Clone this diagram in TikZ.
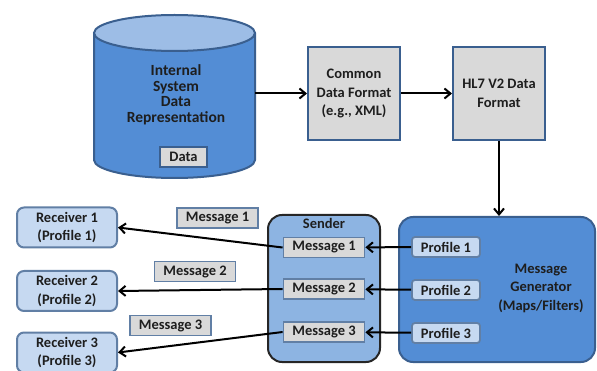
\documentclass[tikz,border=0pt]{standalone}
\usepackage{fontspec}
\setmainfont{Carlito}
\usetikzlibrary{arrows.meta}

\definecolor{dbblue}{HTML}{538DD5}
\definecolor{dbtop}{HTML}{9DBDE6}
\definecolor{edgeblue}{HTML}{3A5F8F}
\definecolor{boxgray}{HTML}{D9D9D9}
\definecolor{paleblue}{HTML}{C6D9F1}
\definecolor{sendblue}{HTML}{8DB4E2}
\definecolor{inkgray}{HTML}{1E1E1E}

\tikzset{
  arr/.style={-{Straight Barb[length=6pt,width=10pt]}, line width=2pt},
  txt/.style={font=\fontsize{14.5}{18.5}\selectfont\bfseries, text=inkgray, align=center},
  fmtbox/.style={txt, draw=edgeblue, fill=boxgray, line width=2pt,
    minimum width=92pt, minimum height=93pt, inner sep=0pt},
  msgbox/.style={txt, draw=edgeblue!80, fill=boxgray, line width=1.8pt,
    minimum width=81pt, minimum height=20pt, inner sep=0pt},
  profbox/.style={txt, draw=edgeblue!80, fill=paleblue, line width=1.8pt,
    rounded corners=3pt, minimum width=68pt, minimum height=20pt, inner sep=0pt},
  rcvbox/.style={txt, draw=edgeblue!80, fill=paleblue, line width=2pt,
    rounded corners=7pt, minimum width=100pt, minimum height=40pt, inner sep=0pt}
}

\begin{document}
\begin{tikzpicture}[x=1pt,y=-1pt]
  \useasboundingbox (0,0) rectangle (597,371);

  % database cylinder
  \draw[fill=dbblue, draw=edgeblue, line width=2pt]
    (94,33) -- (94,160) arc[start angle=180,end angle=0,x radius=80.5,y radius=18] -- (255,33);
  \draw[fill=dbtop, draw=edgeblue, line width=2pt] (174.5,33) ellipse [x radius=80.5,y radius=18];
  \node[txt, font=\fontsize{15.5}{15.5}\selectfont\bfseries] (dbtxt) at (176,95)
    {Internal\\System\\Data\\Representation};
  \node[msgbox, draw=edgeblue, minimum width=47pt] (dbdata) at (183.5,157) {Data};
  \coordinate (dbE) at (255,93.5);

  % format boxes
  \node[fmtbox] (common) at (354,93.5) {Common\\Data Format\\(e.g., XML)};
  \node[fmtbox] (hl7) at (499,93.5) {HL7 V2 Data\\Format};

  % message generator
  \node[draw=edgeblue, fill=dbblue, line width=2pt, rounded corners=14pt,
    minimum width=196pt, minimum height=145pt] (gen) at (497,289.5) {};
  \node[txt] (gentxt) at (541,288) {Message\\Generator\\(Maps/Filters)};
  \node[profbox] (prof1) at (446,247) {Profile 1};
  \node[profbox] (prof2) at (446,290) {Profile 2};
  \node[profbox] (prof3) at (446,333) {Profile 3};

  % sender
  \node[draw=black!85, fill=sendblue, line width=2pt, rounded corners=14pt,
    minimum width=112pt, minimum height=147pt] (sender) at (324,288.5) {};
  \node[txt] (sendlbl) at (324,223) {Sender};
  \node[msgbox] (msg1) at (324,247.5) {Message 1};
  \node[msgbox] (msg2) at (324,289) {Message 2};
  \node[msgbox] (msg3) at (324,332) {Message 3};

  % receivers
  \node[rcvbox] (rcv1) at (67,227.5) {Receiver 1\\(Profile 1)};
  \node[rcvbox] (rcv2) at (67,291) {Receiver 2\\(Profile 2)};
  \node[rcvbox] (rcv3) at (67,352.5) {Receiver 3\\(Profile 3)};

  % messages in transit
  \node[msgbox] (lab1) at (217.5,218) {Message 1};
  \node[msgbox] (lab2) at (195,271.5) {Message 2};
  \node[msgbox] (lab3) at (170.5,325.5) {Message 3};

  \draw[arr] (dbE) -- (common);
  \draw[arr] (common) -- (hl7);
  \draw[arr] (hl7.south) -- (hl7.south |- gen.north);
  \draw[arr] (prof1) -- (msg1);
  \draw[arr] (prof2) -- (msg2);
  \draw[arr] (prof3) -- (msg3);
  \draw[arr] (msg1.west) -- (rcv1.east);
  \draw[arr] (msg2.west) -- (rcv2.east);
  \draw[arr] (msg3.west) -- (rcv3.east);
\end{tikzpicture}
\end{document}
